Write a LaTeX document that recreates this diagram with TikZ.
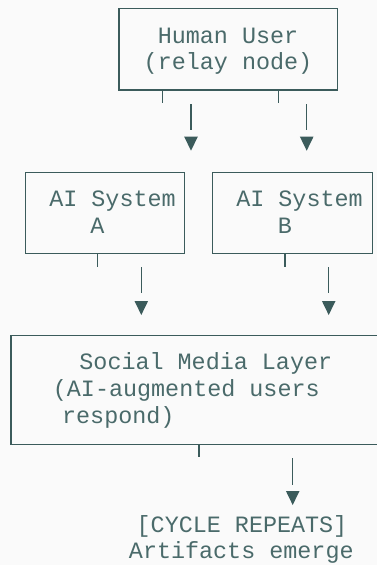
\documentclass[tikz,border=0pt]{standalone}
\usepackage{fontspec}
\setmonofont{Liberation Mono}
\definecolor{ink}{HTML}{3B5B5B}
\definecolor{txt}{HTML}{4A6A6A}
\definecolor{bg}{HTML}{FAFAFA}
\begin{document}
\begin{tikzpicture}[x=1pt,y=-1pt,
  box/.style={draw=ink,line width=1.3pt,rectangle,inner sep=0pt},
  lbl/.style={anchor=base,inner sep=0pt,text=txt,font=\ttfamily\fontsize{23.4}{26.7}\selectfont},
  wire/.style={draw=ink,line width=1.3pt},
  tri/.style={fill=ink}]
\fill[bg] (0,0) rectangle (377,565);
\useasboundingbox (0,0) rectangle (377,565);
\begin{scope}
\clip (0,0) rectangle (377,565);
% boxes
\node[box,minimum width=218.3pt,minimum height=81.7pt] (human) at (228.15,49.15) {};
\node[box,minimum width=159.4pt,minimum height=80.6pt] (aia) at (105,213) {};
\node[box,minimum width=159.6pt,minimum height=80.6pt] (aib) at (292.5,213) {};
\node[box,minimum width=380pt,minimum height=108.6pt] (social) at (201,390) {};
\end{scope}
% texts
\node[lbl] (t1) at (228,43.2) {Human User};
\node[lbl] (t2) at (228,69.6) {(relay node)};
\node[lbl] (t3) at (112.5,206.5) {AI System};
\node[lbl] (t4) at (97.5,233.2) {A};
\node[lbl] (t5) at (299.5,206.5) {AI System};
\node[lbl] (t6) at (285,233.2) {B};
\node[lbl] (t7) at (205.8,369.2) {Social Media Layer};
\node[lbl] (t8) at (186.3,396.2) {(AI-augmented users};
\node[lbl] (t9) at (118.3,423) {respond)};
\node[lbl] (t10) at (242,532.3) {[CYCLE REPEATS]};
\node[lbl] (t11) at (241.3,558.5) {Artifacts emerge};
% ticks under boxes
\coordinate (k1) at (162.7,103);
\coordinate (k2) at (278.3,103);
\coordinate (k3) at (97.7,266.7);
\coordinate (k4) at (285,266.7);
\coordinate (k5) at (199,457.3);
\draw[wire] (human.south -| k1) -- (k1);
\draw[wire] (human.south -| k2) -- (k2);
\draw[wire] (aia.south -| k3) -- (k3);
\draw[wire] (aib.south -| k4) -- (k4);
\draw[wire] (social.south -| k5) -- (k5);
% arrows: shaft start, shaft end, tip
\foreach \n/\x/\a/\b/\c in {p1/191/104/130/150.7, p2/306.7/104/130/150.7,
  p3/141.3/267.3/293.3/315, p4/328.7/267.3/293.3/315, p5/292.7/458.3/485/505}{
  \coordinate (\n s) at (\x,\a);
  \coordinate (\n e) at (\x,\b);
  \coordinate (\n t) at (\x,\c);
  \draw[wire] (\n s) -- (\n e);
  \fill[tri] (\n t) -- ++(-6.8,-14) -- ++(13.6,0) -- cycle;
}
\end{tikzpicture}
\end{document}
